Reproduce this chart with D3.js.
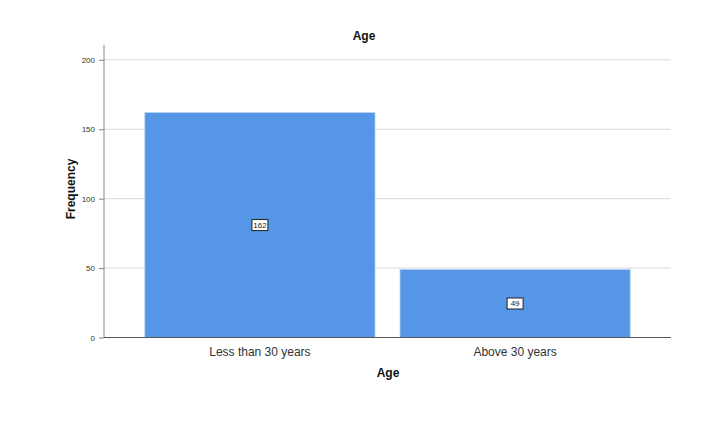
<!DOCTYPE html>
<html><head><meta charset="utf-8">
<script src="https://cdn.jsdelivr.net/npm/d3@7"></script>
<style>body{margin:0;background:#fff}svg{display:block}text{font-family:Arial,"Liberation Sans",sans-serif}</style>
</head><body>
<script>
const categories = ["Less than 30 years", "Above 30 years"];
const frequencies = [162, 49];
const yTicks = [0, 50, 100, 150, 200];

const W = 727, H = 421;
const x0 = 104, x1 = 671, yTop = 45, yBot = 337.5;
const svg = d3.select("body").append("svg").attr("width", W).attr("height", H);

const y = d3.scaleLinear().domain([0, 210.7]).range([yBot, yTop]);
const x = d3.scaleBand().domain(categories).range([x0, x1]).paddingInner(0.098).paddingOuter(0.16);

// gridlines
svg.append("g").selectAll("line").data(yTicks.filter(d => d > 0)).join("line")
  .attr("x1", x0).attr("x2", x1).attr("y1", d => y(d)).attr("y2", d => y(d))
  .attr("stroke", "#d9d9d9").attr("stroke-width", 1);

// bars
svg.append("g").selectAll("rect").data(frequencies).join("rect")
  .attr("x", (d, i) => x(categories[i]))
  .attr("y", d => y(d))
  .attr("width", x.bandwidth())
  .attr("height", d => y(0) - y(d))
  .attr("fill", "#5596e6")
  .attr("stroke", "#b4d0f2").attr("stroke-width", 0.8);

// y axis
const yAxis = d3.axisLeft(y).tickValues(yTicks).tickSize(5).tickPadding(4);
const gy = svg.append("g").attr("transform", `translate(${x0},0)`).call(yAxis);
gy.select(".domain").remove();
gy.selectAll(".tick line").attr("stroke", "#888");
gy.selectAll(".tick text").attr("font-size", 8).attr("fill", "#333");
svg.append("line").attr("x1", x0).attr("x2", x0).attr("y1", yTop).attr("y2", yBot)
  .attr("stroke", "#888").attr("stroke-width", 1);

// x axis
const xAxis = d3.axisBottom(x).tickSize(0).tickPadding(10);
const gx = svg.append("g").attr("transform", `translate(0,${yBot})`).call(xAxis);
gx.select(".domain").remove();
gx.selectAll(".tick text").attr("font-size", 12).attr("fill", "#333");
svg.append("line").attr("x1", x0).attr("x2", x1).attr("y1", yBot).attr("y2", yBot)
  .attr("stroke", "#555").attr("stroke-width", 1);

// value labels
const lab = svg.append("g").selectAll("g").data(frequencies).join("g")
  .attr("transform", (d, i) => `translate(${x(categories[i]) + x.bandwidth() / 2},${y(d / 2)})`);
lab.append("rect").attr("x", -8).attr("y", -5.5).attr("width", 16).attr("height", 11)
  .attr("fill", "#fff").attr("stroke", "#222").attr("stroke-width", 1);
lab.append("text").text(d => d).attr("text-anchor", "middle").attr("dy", "0.35em")
  .attr("font-size", 8).attr("fill", "#222");

// titles
svg.append("text").text("Age").attr("x", 364).attr("y", 40).attr("text-anchor", "middle")
  .attr("font-size", 12).attr("font-weight", "bold").attr("fill", "#111");
svg.append("text").text("Age").attr("x", 388).attr("y", 377).attr("text-anchor", "middle")
  .attr("font-size", 12).attr("font-weight", "bold").attr("fill", "#111");
svg.append("text").text("Frequency").attr("transform", "translate(75,189) rotate(-90)")
  .attr("text-anchor", "middle").attr("font-size", 12).attr("font-weight", "bold").attr("fill", "#111");
</script>
</body></html>
